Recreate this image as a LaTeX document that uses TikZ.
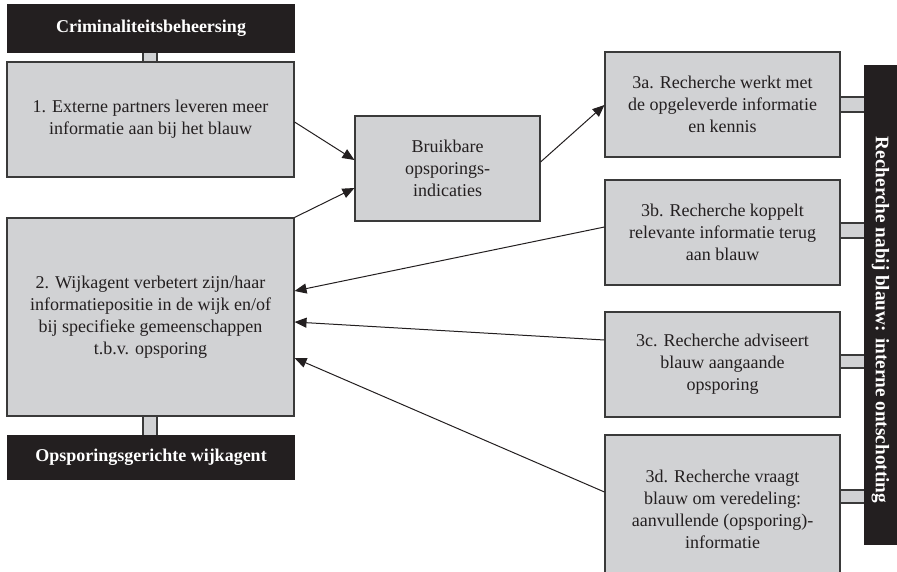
\documentclass[tikz,border=0pt]{standalone}
\usepackage{fontspec}
\setmainfont{Liberation Serif}
\usetikzlibrary{arrows.meta}
\definecolor{hdr}{HTML}{231F20}
\definecolor{boxfill}{HTML}{D1D2D4}
\definecolor{boxline}{HTML}{3A3A3A}
\definecolor{txt}{HTML}{231F20}
\tikzset{
  gbox/.style={draw=boxline, line width=1.1pt, fill=boxfill, inner sep=0pt, align=center,
    text=txt, font=\fontsize{18}{22}\selectfont},
  hbox/.style={fill=hdr, inner sep=0pt, align=center, text=white,
    font=\fontsize{18}{22}\selectfont\bfseries},
  stub/.style={draw=boxline, line width=1.1pt, fill=boxfill},
  conn/.style={line width=1pt, draw=hdr, -{Triangle[length=12pt,width=10pt]}}
}
\begin{document}
\begin{tikzpicture}[x=1pt,y=1pt]
\useasboundingbox (0,0) rectangle (897,-572);
% stubs
\draw[stub] (143,-52) rectangle (157,-63);
\draw[stub] (143,-415) rectangle (157,-436);
\draw[stub] (839,-97) rectangle (865,-112);
\draw[stub] (839,-223) rectangle (865,-238);
\draw[stub] (839,-355) rectangle (865,-368);
\draw[stub] (839,-490) rectangle (865,-503);
% headers
\node[hbox, minimum width=288pt, minimum height=49pt] (h1) at (151,-28.5) {Criminaliteitsbeheersing};
\node[hbox, minimum width=288pt, minimum height=45pt] (h2) at (151,-457.5) {Opsporingsgerichte wijkagent};
\node[hbox, minimum width=33pt, minimum height=480pt] (bar) at (880.5,-305) {};
\node[text=white, font=\fontsize{19.2}{22}\selectfont\bfseries, rotate=-90, inner sep=0pt] (bartxt) at ([yshift=-15pt]bar.center) {Recherche nabij blauw: interne ontschotting};
% boxes
\node[gbox, minimum width=287pt, minimum height=115pt] (b1) at (150.5,-119.5)
  {1. Externe partners leveren meer\\informatie aan bij het blauw};
\node[gbox, minimum width=287pt, minimum height=198pt] (b2) at (150.5,-317)
  {2. Wijkagent verbetert zijn/haar\\informatiepositie in de wijk en/of\\bij specifieke gemeenschappen\\t.b.v. opsporing};
\node[gbox, minimum width=185pt, minimum height=105pt] (m) at (447.5,-168.5)
  {Bruikbare\\opsporings-\\indicaties};
\node[gbox, minimum width=235pt, minimum height=105pt] (r3a) at (722.5,-104.5)
  {3a. Recherche werkt met\\de opgeleverde informatie\\en kennis};
\node[gbox, minimum width=235pt, minimum height=105pt] (r3b) at (722.5,-232.5)
  {3b. Recherche koppelt\\relevante informatie terug\\aan blauw};
\node[gbox, minimum width=235pt, minimum height=105pt] (r3c) at (722.5,-364.5)
  {3c. Recherche adviseert\\blauw aangaande\\opsporing};
\node[gbox, minimum width=235pt, minimum height=148pt] (r3d) at (722.5,-509)
  {3d. Recherche vraagt\\blauw om veredeling:\\aanvullende (opsporing)-\\informatie};
% connectors
\draw[conn] ([yshift=-2.5pt]b1.east) -- ([yshift=8.5pt]m.west);
\draw[conn] (b2.north east) -- ([yshift=-19.5pt]m.west);
\draw[conn] ([yshift=6.5pt]m.east) -- ([yshift=-0.5pt]r3a.west);
\draw[conn] ([yshift=5.5pt]r3b.west) -- ([yshift=26pt]b2.east);
\draw[conn] ([yshift=24.5pt]r3c.west) -- ([yshift=-5pt]b2.east);
\draw[conn] ([yshift=17pt]r3d.west) -- ([yshift=-41pt]b2.east);
\end{tikzpicture}
\end{document}
